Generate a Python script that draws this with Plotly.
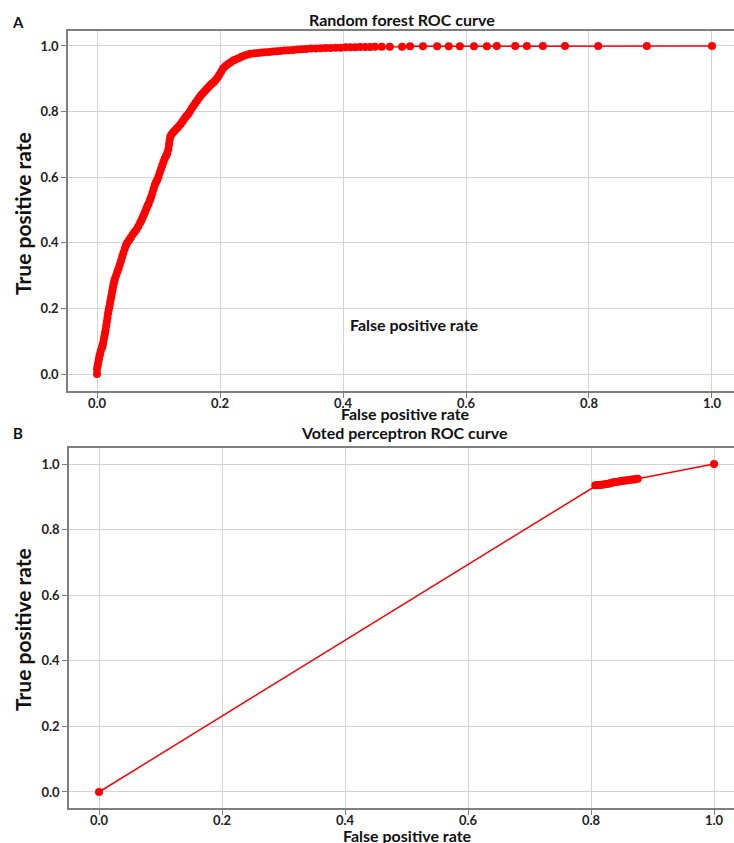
import plotly.graph_objects as go

# ---- Panel A: Random forest ROC curve ----
fpr_a = [0.000, 0.000, 0.001, 0.002, 0.003, 0.004, 0.005, 0.006, 0.008, 0.009,
         0.010, 0.011, 0.012, 0.013, 0.014, 0.015, 0.016, 0.017, 0.018, 0.019,
         0.020, 0.021, 0.022, 0.023, 0.024, 0.025, 0.026, 0.027, 0.028, 0.029,
         0.031, 0.033, 0.035, 0.037, 0.039, 0.041, 0.043, 0.045, 0.047, 0.049,
         0.052, 0.055, 0.058, 0.061, 0.064, 0.067, 0.070, 0.072, 0.074, 0.076,
         0.078, 0.080, 0.082, 0.084, 0.086, 0.088, 0.090, 0.092, 0.094, 0.096,
         0.098, 0.100, 0.102, 0.104, 0.106, 0.108, 0.110, 0.112, 0.114, 0.116,
         0.117, 0.118, 0.119, 0.121, 0.124, 0.127, 0.130, 0.133, 0.136, 0.139,
         0.142, 0.145, 0.148, 0.151, 0.154, 0.157, 0.160, 0.163, 0.166, 0.169,
         0.172, 0.175, 0.178, 0.181, 0.184, 0.187, 0.190, 0.193, 0.196, 0.199,
         0.202, 0.205, 0.209, 0.213, 0.217, 0.221, 0.225, 0.230, 0.235, 0.240,
         0.245, 0.250, 0.256, 0.262, 0.268, 0.274, 0.280, 0.286, 0.292, 0.298,
         0.305, 0.312, 0.319, 0.326, 0.333, 0.340, 0.348, 0.356, 0.364, 0.372,
         0.380, 0.388, 0.396, 0.404, 0.412, 0.420, 0.428, 0.436, 0.444, 0.452,
         0.463, 0.476, 0.496, 0.509, 0.530, 0.553, 0.572, 0.590, 0.613, 0.634,
         0.650, 0.680, 0.699, 0.725, 0.761, 0.815, 0.894, 1.000]
tpr_a = [0.000, 0.015, 0.025, 0.035, 0.045, 0.055, 0.062, 0.070, 0.080, 0.088,
         0.095, 0.105, 0.115, 0.125, 0.135, 0.148, 0.160, 0.172, 0.185, 0.195,
         0.205, 0.215, 0.225, 0.235, 0.245, 0.255, 0.265, 0.275, 0.283, 0.290,
         0.300, 0.312, 0.322, 0.333, 0.345, 0.358, 0.370, 0.382, 0.392, 0.400,
         0.408, 0.416, 0.425, 0.433, 0.440, 0.450, 0.460, 0.468, 0.476, 0.485,
         0.494, 0.503, 0.512, 0.520, 0.530, 0.540, 0.552, 0.565, 0.576, 0.585,
         0.592, 0.602, 0.614, 0.625, 0.636, 0.646, 0.656, 0.664, 0.672, 0.685,
         0.700, 0.712, 0.723, 0.730, 0.737, 0.743, 0.749, 0.755, 0.762, 0.770,
         0.778, 0.786, 0.792, 0.800, 0.810, 0.818, 0.826, 0.834, 0.842, 0.850,
         0.856, 0.862, 0.868, 0.874, 0.880, 0.886, 0.890, 0.896, 0.904, 0.912,
         0.922, 0.931, 0.939, 0.945, 0.950, 0.955, 0.959, 0.963, 0.967, 0.971,
         0.974, 0.976, 0.978, 0.979, 0.980, 0.981, 0.982, 0.983, 0.984, 0.985,
         0.986, 0.987, 0.988, 0.989, 0.990, 0.991, 0.992, 0.992, 0.993, 0.994,
         0.994, 0.995, 0.995, 0.996, 0.996, 0.996, 0.997, 0.997, 0.997, 0.998,
         0.998, 0.998, 0.998, 0.999, 0.999, 0.999, 0.999, 0.999, 0.999, 0.999,
         1.000, 1.000, 1.000, 1.000, 1.000, 1.000, 1.000, 1.000]

# ---- Panel B: Voted perceptron ROC curve ----
fpr_b = [0.000, 0.807, 0.810, 0.813, 0.816, 0.819, 0.822, 0.825, 0.828, 0.831,
         0.834, 0.837, 0.840, 0.843, 0.846, 0.849, 0.852, 0.855, 0.858, 0.861,
         0.864, 0.867, 0.870, 0.873, 0.876, 1.000]
tpr_b = [0.000, 0.935, 0.936, 0.936, 0.937, 0.937, 0.938, 0.939, 0.940, 0.941,
         0.943, 0.944, 0.945, 0.946, 0.947, 0.948, 0.949, 0.950, 0.950, 0.951,
         0.952, 0.953, 0.953, 0.954, 0.955, 1.000]

tick_vals = [0.0, 0.2, 0.4, 0.6, 0.8, 1.0]
tick_text = ["0.0", "0.2", "0.4", "0.6", "0.8", "1.0"]

title_a = "Random forest ROC curve"
title_b = "Voted perceptron ROC curve"
x_title = "False positive rate"
y_title = "True positive rate"

W, H = 734, 843
FONT = "Lato"
RED = "#ff0000"

fig = go.Figure()
fig.add_trace(go.Scatter(x=fpr_a, y=tpr_a, mode="lines+markers",
                         line=dict(color=RED, width=1.5),
                         marker=dict(color=RED, size=8),
                         xaxis="x", yaxis="y", hoverinfo="x+y"))
fig.add_trace(go.Scatter(x=fpr_b, y=tpr_b, mode="lines+markers",
                         line=dict(color=RED, width=1.5),
                         marker=dict(color=RED, size=8),
                         xaxis="x2", yaxis="y2", hoverinfo="x+y"))

def px(x):
    return x / W

def py(y):
    return 1 - y / H

axis_common = dict(
    tickmode="array", tickvals=tick_vals, ticktext=tick_text,
    showgrid=True, gridcolor="#d4d4d4", gridwidth=1,
    zeroline=False, showline=True, linecolor="#7f7f7f", linewidth=1.5,
    ticks="outside", ticklen=5, tickcolor="#7f7f7f", tickwidth=1,
    tickfont=dict(family=FONT, size=13, color="#222222", weight="bold"),
    fixedrange=True, automargin=False,
)
x_extra = dict(ticklabelstandoff=-5)

fig.update_layout(
    width=W, height=H,
    margin=dict(l=0, r=0, t=0, b=0, autoexpand=False),
    paper_bgcolor="white", plot_bgcolor="white",
    showlegend=False,
    xaxis=dict(axis_common, **x_extra, domain=[px(68), 1.0],
               range=[-0.0472, 1.0358], anchor="y", mirror=True),
    yaxis=dict(axis_common, domain=[py(391), py(31)], range=[-0.0518, 1.0457],
               anchor="x"),
    xaxis2=dict(axis_common, **x_extra, domain=[px(69), 1.0],
                range=[-0.0488, 1.0325], anchor="y2", mirror=True),
    yaxis2=dict(axis_common, domain=[py(808), py(448)], range=[-0.0488, 1.0488],
                anchor="x2"),
)

def ann(text, x, y, size, angle=0, xref="paper", yref="paper"):
    fig.add_annotation(text=text, x=x, y=y, xref=xref, yref=yref,
                       showarrow=False, textangle=angle,
                       xanchor="center", yanchor="middle",
                       font=dict(family=FONT, size=size, color="#111111",
                                 weight="bold"))

# panel letters
ann("A", px(18), py(22), 15)
ann("B", px(18), py(433), 15)
# panel titles
ann(title_a, px(402), py(19), 16)
ann(title_b, px(404), py(432), 16)
# axis titles
ann(x_title, px(405), py(413), 16)
ann(x_title, px(407), py(835), 16)
ann(y_title, px(22), py(214), 21, angle=-90)
ann(y_title, px(22), py(630), 21, angle=-90)
# stray label inside panel A
ann(x_title, 0.517, 0.152, 16, xref="x", yref="y")

fig.write_html("out.html",
               config={"displayModeBar": False},
               post_script="document.body.style.margin='0';")
